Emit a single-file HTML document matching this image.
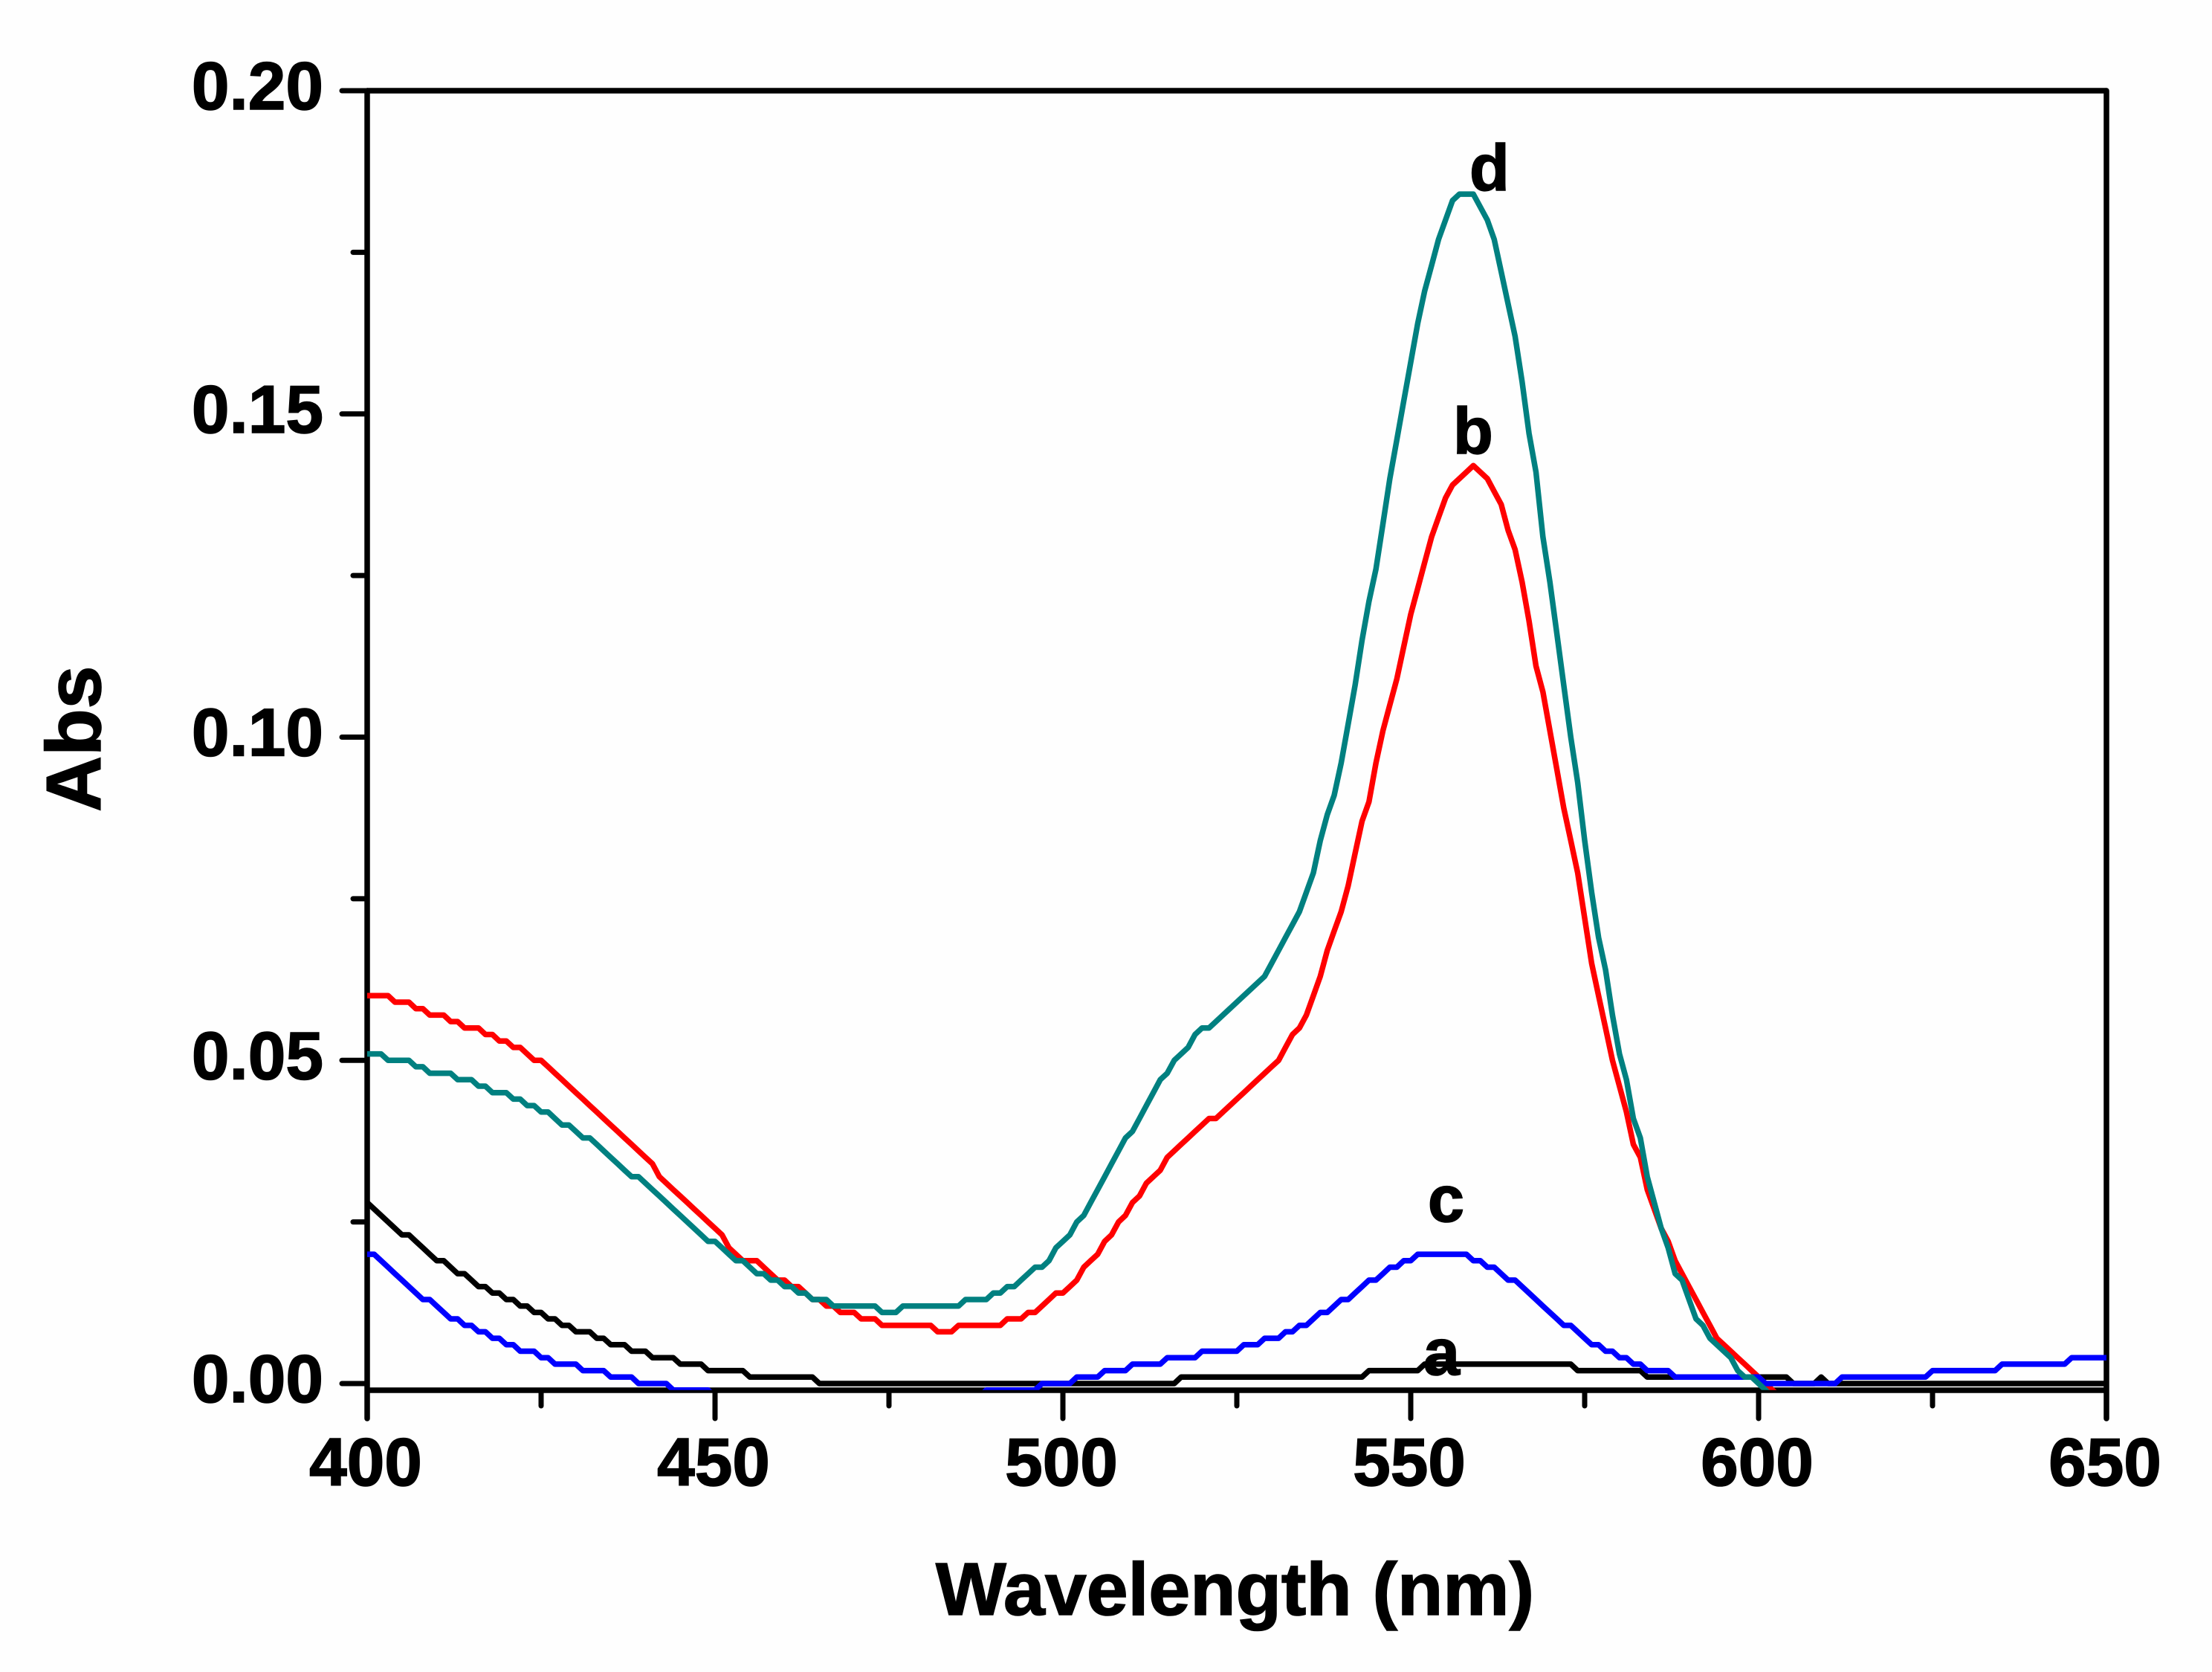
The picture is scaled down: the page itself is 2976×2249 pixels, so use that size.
<!DOCTYPE html>
<html lang="en">
<head>
<meta charset="utf-8">
<title>Absorbance vs wavelength</title>
<style>
html,body{margin:0;padding:0;background:#fefefe;width:2976px;height:2249px;overflow:hidden}
svg{display:block}
text{font-family:"Liberation Sans",Arial,sans-serif;font-weight:700;fill:#000;stroke:#000;stroke-width:1.6px}
</style>
</head>
<body>
<svg id="chart" xmlns="http://www.w3.org/2000/svg" width="2976" height="2249" viewBox="0 0 2976 2249">
  <rect x="0" y="0" width="2976" height="2249" fill="#fefefe"/>
  <defs>
    <clipPath id="plot-clip"><rect id="plot-clip-rect" x="494" y="100" width="2342" height="1769.7"/></clipPath>
  </defs>
  <g id="axes"></g>
  <g id="series" clip-path="url(#plot-clip)"></g>
  <text x="1259" y="2172" font-size="100" textLength="805" lengthAdjust="spacingAndGlyphs">Wavelength (nm)</text>
  <text transform="translate(135 1092) rotate(-90)" font-size="104">Abs</text>
  <text x="1977" y="256" font-size="88">d</text>
  <text x="1955" y="610" font-size="88">b</text>
  <text x="1921" y="1643" font-size="88">c</text>
  <text x="1915" y="1849" font-size="88">a</text>
</svg>
<script>
// Values are absorbance x 1000, one reading per nm starting at 400 nm.
const startWavelength = 400;
const seriesA = [
28,27,26,25,24,23,23,22,21,20,
19,19,18,17,17,16,15,15,14,14,
13,13,12,12,11,11,10,10,9,9,
8,8,8,7,7,6,6,6,5,5,
5,4,4,4,4,3,3,3,3,2,
2,2,2,2,2,1,1,1,1,1,
1,1,1,1,1,0,0,0,0,0,
0,0,0,0,0,0,0,0,0,0,
0,0,0,0,0,0,0,0,0,0,
0,0,0,0,0,0,0,0,0,0,
0,0,0,0,0,0,0,0,0,0,
0,0,0,0,0,0,0,1,1,1,
1,1,1,1,1,1,1,1,1,1,
1,1,1,1,1,1,1,1,1,1,
1,1,1,1,2,2,2,2,2,2,
2,2,3,3,3,3,3,3,3,3,
3,3,3,3,3,3,3,3,3,3,
3,3,3,3,2,2,2,2,2,2,
2,2,2,2,1,1,1,1,1,1,
1,1,1,1,1,1,1,1,1,1,
1,1,1,1,1,0,0,0,0,1,
0,0,0,0,0,0,0,0,0,0,
0,0,0,0,0,0,0,0,0,0,
0,0,0,0,0,0,0,0,0,0,
0,0,0,0,0,0,0,0,0,0,
0];
const seriesB = [
60,60,60,60,59,59,59,58,58,57,
57,57,56,56,55,55,55,54,54,53,
53,52,52,51,50,50,49,48,47,46,
45,44,43,42,41,40,39,38,37,36,
35,34,32,31,30,29,28,27,26,25,
24,23,21,20,19,19,19,18,17,16,
16,15,15,14,13,13,12,12,11,11,
11,10,10,10,9,9,9,9,9,9,
9,9,8,8,8,9,9,9,9,9,
9,9,10,10,10,11,11,12,13,14,
14,15,16,18,19,20,22,23,25,26,
28,29,31,32,33,35,36,37,38,39,
40,41,41,42,43,44,45,46,47,48,
49,50,52,54,55,57,60,63,67,70,
73,77,82,87,90,96,101,105,109,114,
119,123,127,131,134,137,139,140,141,142,
141,140,138,136,132,129,124,118,111,107,
101,95,89,84,79,72,65,60,55,50,
46,42,37,35,30,27,24,22,19,17,
15,13,11,9,7,6,5,4,3,2,
1,0,-1,-2,-2,-2,-2,-2,-2,-2,
-2,-2,-2,-2,-2,-2,-2,-2,-2,-2,
-2,-2,-2,-2,-2,-2,-2,-2,-2,-2,
-2,-2,-2,-2,-2,-2,-2,-2,-2,-2,
-2,-2,-2,-2,-2,-2,-2,-2,-2,-2,
-2];
const seriesC = [
20,20,19,18,17,16,15,14,13,13,
12,11,10,10,9,9,8,8,7,7,
6,6,5,5,5,4,4,3,3,3,
3,2,2,2,2,1,1,1,1,0,
0,0,0,0,-1,-1,-1,-1,-1,-1,
-2,-2,-2,-2,-2,-2,-2,-2,-2,-2,
-2,-2,-2,-2,-2,-2,-2,-2,-2,-2,
-2,-2,-2,-2,-2,-2,-2,-2,-2,-2,
-2,-2,-2,-2,-2,-2,-2,-2,-2,-1,
-1,-1,-1,-1,-1,-1,-1,0,0,0,
0,0,1,1,1,1,2,2,2,2,
3,3,3,3,3,4,4,4,4,4,
5,5,5,5,5,5,6,6,6,7,
7,7,8,8,9,9,10,11,11,12,
13,13,14,15,16,16,17,18,18,19,
19,20,20,20,20,20,20,20,20,19,
19,18,18,17,16,16,15,14,13,12,
11,10,9,9,8,7,6,6,5,5,
4,4,3,3,2,2,2,2,1,1,
1,1,1,1,1,1,1,1,1,1,
1,0,0,0,0,0,0,0,0,0,
0,0,1,1,1,1,1,1,1,1,
1,1,1,1,1,2,2,2,2,2,
2,2,2,2,2,3,3,3,3,3,
3,3,3,3,3,4,4,4,4,4,
4];
const seriesD = [
51,51,51,50,50,50,50,49,49,48,
48,48,48,47,47,47,46,46,45,45,
45,44,44,43,43,42,42,41,40,40,
39,38,38,37,36,35,34,33,32,32,
31,30,29,28,27,26,25,24,23,22,
22,21,20,19,19,18,17,17,16,16,
15,15,14,14,13,13,13,12,12,12,
12,12,12,12,11,11,11,12,12,12,
12,12,12,12,12,12,13,13,13,13,
14,14,15,15,16,17,18,18,19,21,
22,23,25,26,28,30,32,34,36,38,
39,41,43,45,47,48,50,51,52,54,
55,55,56,57,58,59,60,61,62,63,
65,67,69,71,73,76,79,84,88,91,
96,102,108,115,121,126,133,140,146,152,
158,164,169,173,177,180,183,184,184,184,
182,180,177,172,167,162,155,147,141,131,
124,116,108,100,93,84,76,69,64,57,
51,47,41,38,32,28,24,21,17,16,
13,10,9,7,6,5,4,2,1,1,
0,-1,-2,-2,-2,-2,-2,-2,-2,-2,
-2,-2,-2,-2,-2,-2,-2,-2,-2,-2,
-2,-2,-2,-2,-2,-2,-2,-2,-2,-2,
-2,-2,-2,-2,-2,-2,-2,-2,-2,-2,
-2,-2,-2,-2,-2,-2,-2,-2,-2,-2,
-2];
const xMajorTicks = [400,450,500,550,600,650];
const xMinorTicks = [425,475,525,575,625];
const xTickLabels = ["400","450","500","550","600","650"];
const yMajorTicks = [0,0.05,0.10,0.15,0.20];
const yMinorTicks = [0.025,0.075,0.125,0.175];
const yTickLabels = ["0.00","0.05","0.10","0.15","0.20"];

const SVGNS = "http://www.w3.org/2000/svg";
const axes = document.getElementById("axes");
const seriesGroup = document.getElementById("series");

function xScale(nm){ return 494 + (nm - 400) * 9.36; }
function yScale(v){ return 1861 - v * 8695; }

function line(x1,y1,x2,y2,w,cap){
  const el = document.createElementNS(SVGNS,"line");
  el.setAttribute("x1",x1);
  el.setAttribute("y1",y1);
  el.setAttribute("x2",x2);
  el.setAttribute("y2",y2);
  el.setAttribute("stroke","#000");
  el.setAttribute("stroke-width",w);
  el.setAttribute("stroke-linecap",cap);
  axes.appendChild(el);
  return el;
}
function label(str,x,y,anchor){
  const el = document.createElementNS(SVGNS,"text");
  el.textContent = str;
  el.setAttribute("x",x);
  el.setAttribute("y",y);
  el.setAttribute("font-size","91");
  el.setAttribute("text-anchor",anchor);
  axes.appendChild(el);
  return el;
}

const plotTop = yScale(0.20);
const plotBottom = 1870;
const plotLeft = xScale(400);
const plotRight = xScale(650);
const majorLen = 38;
const minorLen = 21;

const leftAxis = line(plotLeft,plotTop,plotLeft,plotBottom+majorLen,7.5,"round");


const rightAxis = line(plotRight,plotTop,plotRight,plotBottom+majorLen,7.5,"round");


const topAxis = line(plotLeft,plotTop,plotRight,plotTop,7.5,"butt");


const bottomAxis = line(plotLeft,plotBottom,plotRight,plotBottom,7.5,"butt");



xMajorTicks.forEach(function(t,i){
  const tick = line(xScale(t),plotBottom,xScale(t),plotBottom+majorLen,7,"round");
  
  
  const lab = label(xTickLabels[i],xScale(t)-2,1998,"middle");
  
  
});
xMinorTicks.forEach(function(t){
  const tick = line(xScale(t),plotBottom,xScale(t),plotBottom+minorLen,7,"round");
  
  
});
yMajorTicks.forEach(function(t,i){
  const tick = line(plotLeft,yScale(t),plotLeft-34,yScale(t),7,"round");
  
  
  const lab = label(yTickLabels[i],435,yScale(t)+25,"end");
  
  
});
yMinorTicks.forEach(function(t){
  const tick = line(plotLeft,yScale(t),plotLeft-19,yScale(t),7,"round");
  
  
});

function drawSeries(values,color){
  const pts = values.map(function(v,i){
    return xScale(startWavelength+i).toFixed(1)+","+yScale(v/1000).toFixed(1);
  }).join(" ");
  const el = document.createElementNS(SVGNS,"polyline");
  el.setAttribute("points",pts);
  el.setAttribute("fill","none");
  el.setAttribute("stroke",color);
  el.setAttribute("stroke-width","7.5");
  el.setAttribute("stroke-linejoin","round");
  seriesGroup.appendChild(el);
  return el;
}
const lineA = drawSeries(seriesA,"#000000");


const lineB = drawSeries(seriesB,"#ff0000");


const lineC = drawSeries(seriesC,"#0000ff");


const lineD = drawSeries(seriesD,"#008080");


</script>
</body>
</html>
